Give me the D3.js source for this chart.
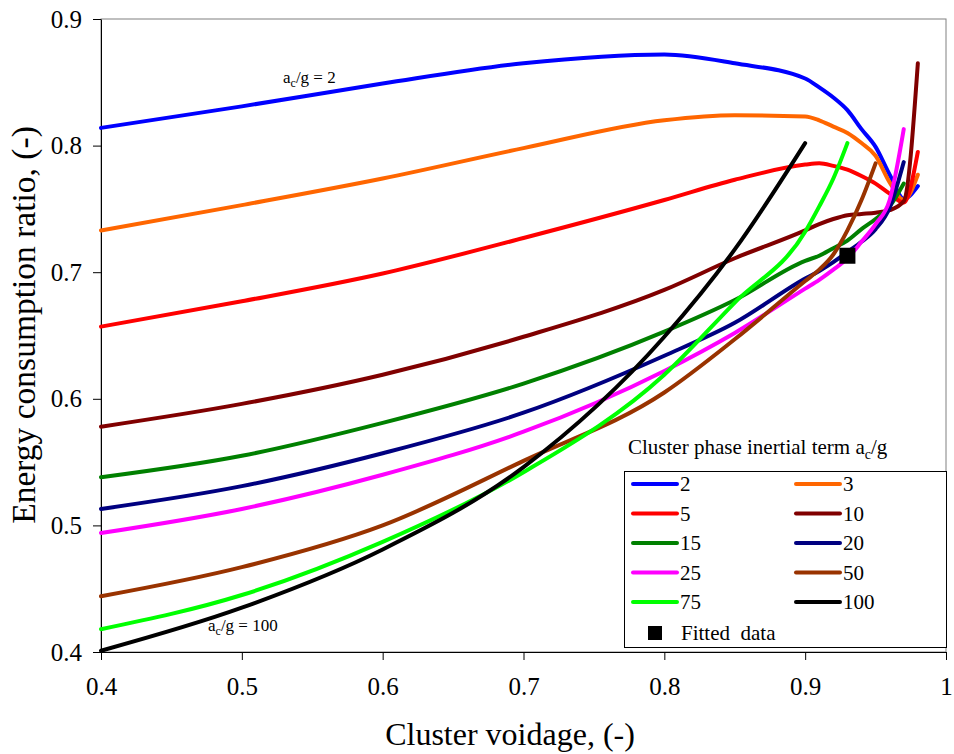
<!DOCTYPE html>
<html>
<head>
<meta charset="utf-8">
<script src="https://cdn.jsdelivr.net/npm/d3@7"></script>
<style>
  body { margin: 0; background: #fff; }
  svg text { font-family: "Liberation Serif", "Times New Roman", serif; }
</style>
</head>
<body>
<svg></svg>
<script>
// Energy consumption ratio vs cluster voidage, one line per a_c/g value

// Cluster voidage values; shorter series just stop earlier
var voidage = [0.4, 0.5, 0.6, 0.7, 0.8, 0.85, 0.9, 0.91, 0.92, 0.93, 0.94, 0.95, 0.96, 0.97, 0.98];

var acg = ["2", "3", "5", "10", "15", "20", "25", "50", "75", "100"];

var ratio2   = [0.814, 0.831, 0.849, 0.865, 0.872, 0.865, 0.853, 0.846, 0.838, 0.828, 0.813, 0.799, 0.777, 0.758, 0.768];
var ratio3   = [0.733, 0.753, 0.774, 0.798, 0.820, 0.824, 0.823, 0.820, 0.815, 0.810, 0.802, 0.792, 0.771, 0.757, 0.777];
var ratio5   = [0.657, 0.677, 0.699, 0.727, 0.757, 0.773, 0.785, 0.786, 0.784, 0.781, 0.776, 0.770, 0.762, 0.755, 0.795];
var ratio10  = [0.578, 0.596, 0.619, 0.649, 0.686, 0.711, 0.733, 0.738, 0.742, 0.745, 0.746, 0.747, 0.749, 0.756, 0.865];
var ratio15  = [0.538, 0.555, 0.581, 0.612, 0.653, 0.678, 0.709, 0.713, 0.719, 0.725, 0.734, 0.742, 0.752, 0.770];
var ratio20  = [0.513, 0.531, 0.557, 0.589, 0.634, 0.660, 0.695, 0.701, 0.708, 0.716, 0.724, 0.734, 0.751, 0.787];
var ratio25  = [0.494, 0.513, 0.540, 0.574, 0.622, 0.652, 0.687, 0.694, 0.702, 0.711, 0.724, 0.738, 0.757, 0.813];
var ratio50  = [0.444, 0.467, 0.500, 0.551, 0.605, 0.647, 0.693, 0.702, 0.714, 0.733, 0.757, 0.786];
var ratio75  = [0.418, 0.445, 0.487, 0.542, 0.619, 0.676, 0.732, 0.752, 0.774, 0.802];
var ratio100 = [0.401, 0.435, 0.481, 0.546, 0.649, 0.718, 0.802];

var fittedVoidage = [0.93];
var fittedRatio = [0.713];

var xTicks = [0.4, 0.5, 0.6, 0.7, 0.8, 0.9, 1];
var yTicks = [0.4, 0.5, 0.6, 0.7, 0.8, 0.9];

var colors = ["#0000ff", "#ff6600", "#ff0000", "#800000", "#008000",
              "#000080", "#ff00ff", "#993300", "#00ff00", "#000000"];

var series = [ratio2, ratio3, ratio5, ratio10, ratio15, ratio20, ratio25, ratio50, ratio75, ratio100]
    .map(function(vals, i) {
        return {
            label: acg[i],
            color: colors[i],
            points: vals.map(function(v, j) { return {x: voidage[j], y: v}; })
        };
    });

var svg = d3.select("svg")
    .attr("width", 954)
    .attr("height", 754),
    margin = {top: 19, right: 8, bottom: 102, left: 101},
    width = +svg.attr("width") - margin.left - margin.right,
    height = +svg.attr("height") - margin.top - margin.bottom;

var g = svg.append("g").attr("transform", "translate(" + margin.left + "," + margin.top + ")");

var x = d3.scaleLinear().domain([0.4, 1]).range([0, width]);
var y = d3.scaleLinear().domain([0.4, 0.9]).range([height, 0]);

var line = d3.line()
    .curve(d3.curveMonotoneX)
    .x(function(d) { return x(d.x); })
    .y(function(d) { return y(d.y); });

// Plot area frame (Excel style, grey on top/right)
g.append("rect")
    .attr("width", width)
    .attr("height", height)
    .attr("fill", "none")
    .attr("stroke", "#808080");

// Axes
var xAxis = g.append("g")
    .attr("transform", "translate(0," + height + ")")
    .call(d3.axisBottom(x)
        .tickValues(xTicks)
        .tickSize(8)
        .tickSizeOuter(0)
        .tickPadding(17)
        .tickFormat(function(d) { return d === 1 ? "1" : d.toFixed(1); }));

var yAxis = g.append("g")
    .call(d3.axisLeft(y)
        .tickValues(yTicks)
        .tickSize(8)
        .tickSizeOuter(0)
        .tickPadding(11)
        .tickFormat(d3.format(".1f")));

[xAxis, yAxis].forEach(function(a) {
    a.attr("font-family", null).attr("font-size", null);
    a.selectAll("text")
        .attr("font-family", "'Liberation Serif', 'Times New Roman', serif")
        .attr("font-size", 25)
        .attr("fill", "#000");
    a.selectAll("line").attr("stroke", "#000");
    a.select(".domain").attr("stroke", "#000");
});

// Axis titles
svg.append("text")
    .attr("x", 510)
    .attr("y", 745)
    .attr("text-anchor", "middle")
    .attr("font-size", 32)
    .text("Cluster voidage, (-)");

svg.append("text")
    .attr("transform", "translate(35,325) rotate(-90)")
    .attr("text-anchor", "middle")
    .attr("font-size", 33.5)
    .text("Energy consumption ratio, (-)");

// One line per a_c/g
g.selectAll("path.valueLine")
    .data(series)
    .enter()
    .append("path")
      .attr("class", "valueLine")
      .attr("d", function(d) { return line(d.points); })
      .attr("fill", "none")
      .attr("stroke", function(d) { return d.color; })
      .attr("stroke-width", 4)
      .attr("stroke-linejoin", "round")
      .attr("stroke-linecap", "round");

// Fitted data point
g.selectAll("rect.fitted")
    .data(fittedVoidage)
    .enter()
    .append("rect")
      .attr("class", "fitted")
      .attr("x", function(d) { return x(d) - 8; })
      .attr("y", function(d, i) { return y(fittedRatio[i]) - 8; })
      .attr("width", 16)
      .attr("height", 16)
      .attr("fill", "#000");

// a_c/g annotations with subscript c
function acgLabel(px, py, value) {
    var t = svg.append("text")
        .attr("x", px)
        .attr("y", py)
        .attr("font-size", 17);
    t.append("tspan").text("a");
    t.append("tspan").attr("font-size", 12).attr("dy", 4).text("c");
    t.append("tspan").attr("dy", -4).text("/g = " + value);
    return t;
}

acgLabel(283, 83, acg[0]);
acgLabel(208, 631, acg[9]);

// Legend
var legendTitle = svg.append("text")
    .attr("x", 628)
    .attr("y", 454)
    .attr("font-size", 21);
legendTitle.append("tspan").text("Cluster phase inertial term a");
legendTitle.append("tspan").attr("font-size", 14).attr("dy", 5).text("c");
legendTitle.append("tspan").attr("dy", -5).text("/g");

svg.append("rect")
    .attr("x", 624.5)
    .attr("y", 471.5)
    .attr("width", 322)
    .attr("height", 176)
    .attr("fill", "#fff")
    .attr("stroke", "#000");

var legend = svg.selectAll("g.legendItem")
    .data(series)
    .enter()
    .append("g")
      .attr("class", "legendItem")
      .attr("transform", function(d, i) {
          return "translate(" + (633 + (i % 2) * 163) + "," + (484 + Math.floor(i / 2) * 29.5) + ")";
      });

legend.append("line")
    .attr("x1", 0)
    .attr("x2", 44)
    .attr("stroke", function(d) { return d.color; })
    .attr("stroke-width", 4)
    .attr("stroke-linecap", "round");

legend.append("text")
    .attr("x", 47)
    .attr("dy", "0.35em")
    .attr("font-size", 21)
    .text(function(d) { return d.label; });

var fittedLegend = svg.append("g").attr("transform", "translate(633,633)");
fittedLegend.append("rect")
    .attr("x", 15)
    .attr("y", -7)
    .attr("width", 14)
    .attr("height", 14)
    .attr("fill", "#000");
fittedLegend.append("text")
    .attr("x", 48)
    .attr("dy", "0.35em")
    .attr("font-size", 21)
    .attr("xml:space", "preserve")
    .text("Fitted  data");
</script>
</body>
</html>
